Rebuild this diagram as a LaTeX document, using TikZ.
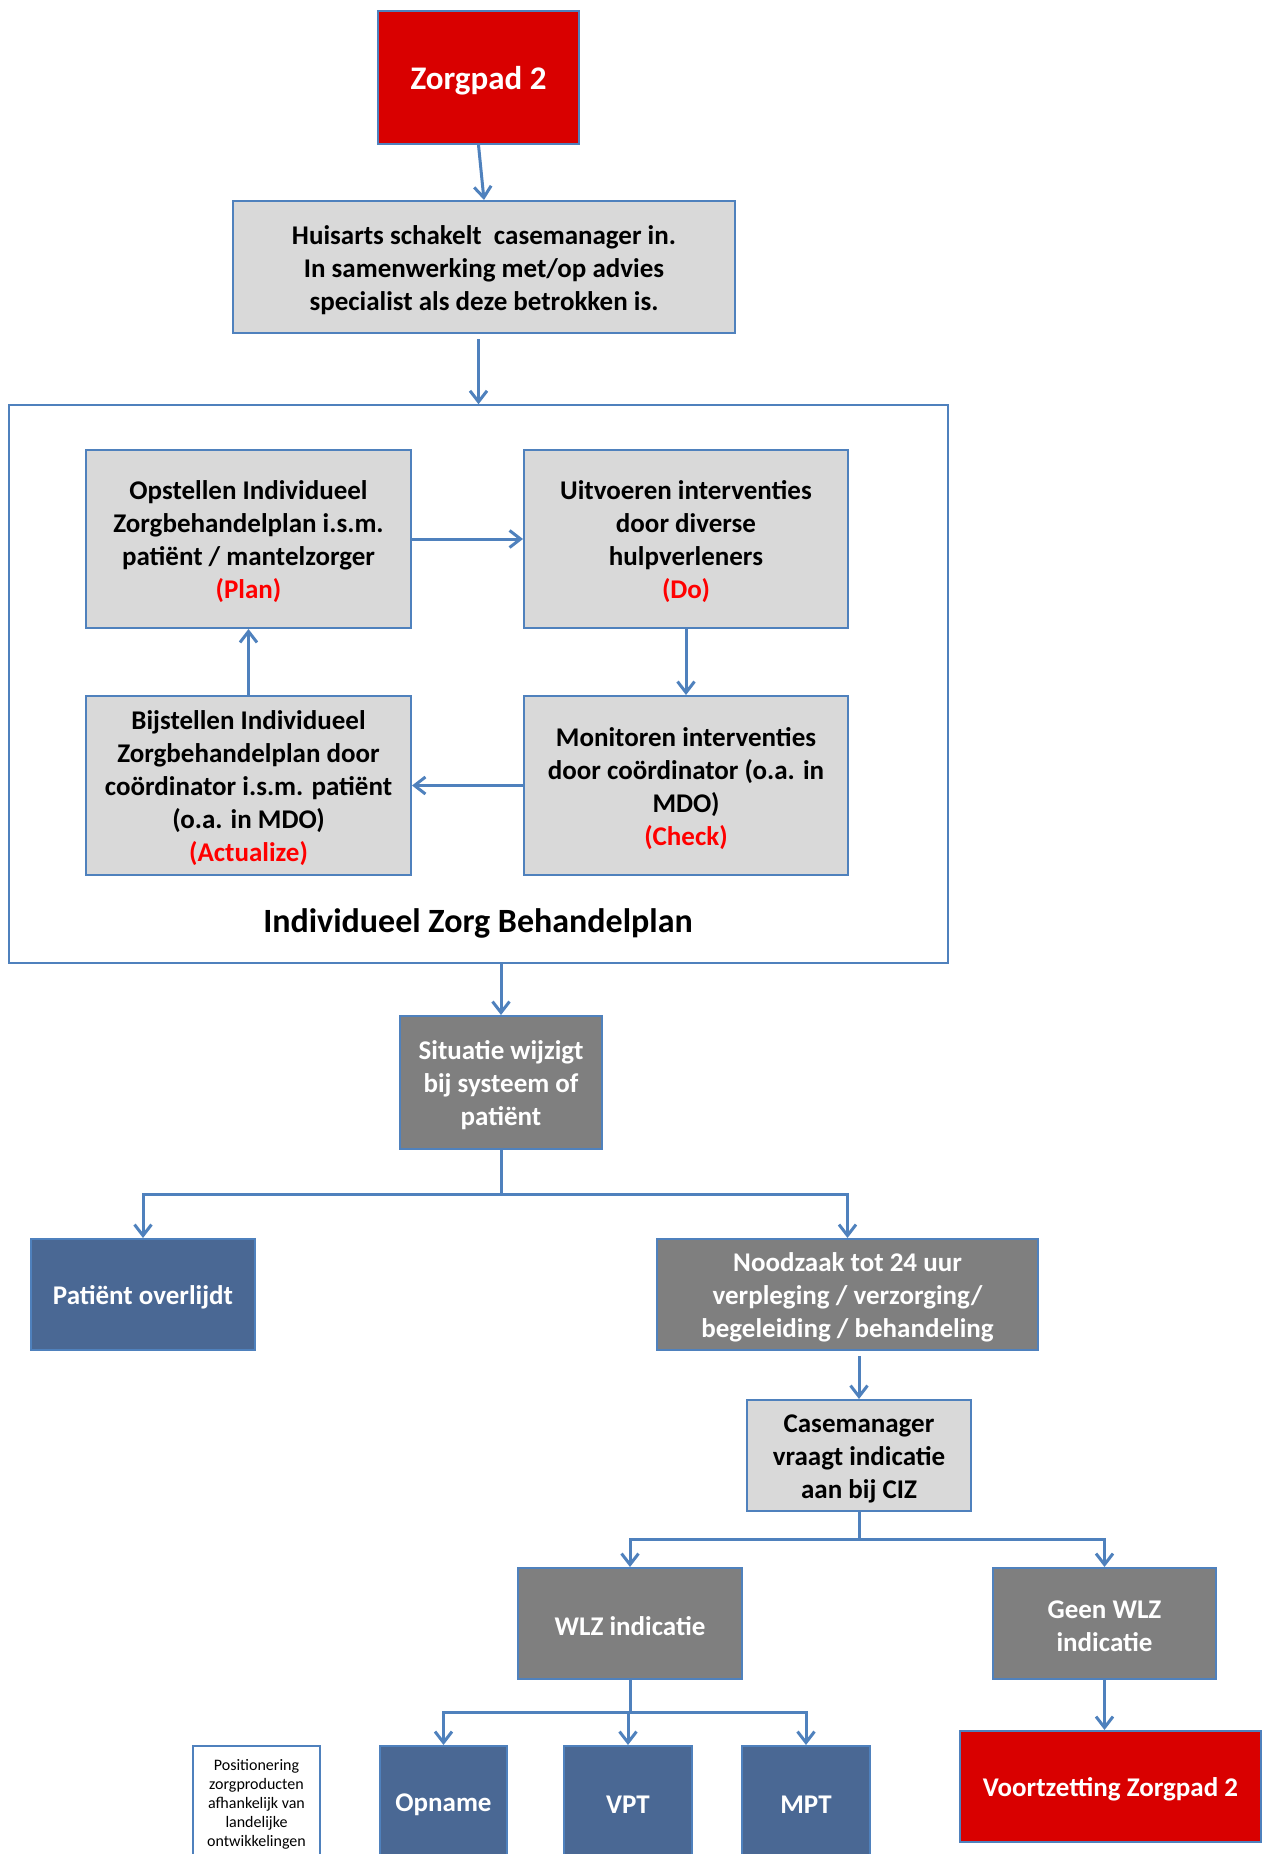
\documentclass[tikz,border=0pt]{standalone}
\usepackage{fontspec}
\setmainfont{Carlito}
\usetikzlibrary{arrows.meta,positioning}
\definecolor{pathred}{RGB}{217,0,0}
\definecolor{linkblue}{RGB}{79,129,189}
\definecolor{lightgrey}{RGB}{217,217,217}
\definecolor{darkgrey}{RGB}{127,127,127}
\definecolor{slateblue}{RGB}{74,104,148}
\definecolor{steptext}{RGB}{255,0,0}

\begin{document}
\begin{tikzpicture}
	[x=1pt,y=-1pt,
	>={Straight Barb[length=11pt,width=17pt]},
	lowtext/.style={execute at begin node={\vbox\bgroup\kern6pt\hbox\bgroup},execute at end node={\egroup\egroup}},
	zbox/.style={rectangle,draw=linkblue,line width=2pt,inner sep=0pt,align=center,font=\fontsize{27}{33}\selectfont\bfseries,lowtext},
	redzbox/.style={zbox,fill=pathred,text=white},
	lightzbox/.style={zbox,fill=lightgrey,text=black},
	darkzbox/.style={zbox,fill=darkgrey,text=white},
	bluezbox/.style={zbox,fill=slateblue,text=white},
	notezbox/.style={zbox,fill=white,line width=1.5pt,font=\fontsize{16}{19}\selectfont},
	planframe/.style={rectangle,draw=linkblue,line width=1.5pt,inner sep=0pt},
	flow/.style={->,draw=linkblue,line width=3pt}]
	\useasboundingbox (0,0) rectangle (1265,1854);
	\clip (0,0) rectangle (1265,1854);
	% top
	\node (zorgpad) at (478.5,77.5) [redzbox,minimum width=201pt,minimum height=133pt,font=\fontsize{33}{40}\selectfont\bfseries] {Zorgpad 2};
	\node (huisarts) at (484,267) [lightzbox,minimum width=502pt,minimum height=132pt] {Huisarts schakelt\ \ casemanager in.\\In samenwerking met/op advies\\specialist als deze betrokken is.};
	% plan-do-check-act
	\node (izb) at (478.5,684) [planframe,minimum width=939pt,minimum height=558pt] {};
	\node (plan) at (248.5,539) [lightzbox,minimum width=325pt,minimum height=178pt] {Opstellen Individueel\\Zorgbehandelplan i.s.m.\\patiënt / mantelzorger\\\textcolor{steptext}{(Plan)}};
	\node (do) at (686,539) [lightzbox,minimum width=324pt,minimum height=178pt] {Uitvoeren interventies\\door diverse\\hulpverleners\\\textcolor{steptext}{(Do)}};
	\node (actualize) at (248.5,785.5) [lightzbox,minimum width=325pt,minimum height=179pt] {Bijstellen Individueel\\Zorgbehandelplan door\\coördinator i.s.m. patiënt\\(o.a. in MDO)\\\textcolor{steptext}{(Actualize)}};
	\node (check) at (686,785.5) [lightzbox,minimum width=324pt,minimum height=179pt] {Monitoren interventies\\door coördinator (o.a. in\\MDO)\\\textcolor{steptext}{(Check)}};
	\node (title) at (478,920) [font=\fontsize{34}{40}\selectfont\bfseries,lowtext] {Individueel Zorg Behandelplan};
	% below
	\node (situatie) at (501,1082.5) [darkzbox,minimum width=202pt,minimum height=133pt] {Situatie wijzigt\\bij systeem of\\patiënt};
	\node (patient) at (143,1294.5) [bluezbox,minimum width=224pt,minimum height=111pt] {Patiënt overlijdt};
	\node (noodzaak) at (847.5,1294.5) [darkzbox,minimum width=381pt,minimum height=111pt] {Noodzaak tot 24 uur\\verpleging / verzorging/\\begeleiding / behandeling};
	\node (casemanager) at (859,1455.5) [lightzbox,minimum width=224pt,minimum height=111pt] {Casemanager\\vraagt indicatie\\aan bij CIZ};
	\node (wlz) at (630,1623.5) [darkzbox,minimum width=224pt,minimum height=111pt] {WLZ indicatie};
	\node (geen) at (1104.5,1623.5) [darkzbox,minimum width=223pt,minimum height=111pt] {Geen WLZ\\indicatie};
	\node (voortzetting) at (1110.5,1786.5) [redzbox,minimum width=301pt,minimum height=111pt] {Voortzetting Zorgpad 2};
	\node (note) at (256.5,1801.5) [notezbox,minimum width=127pt,minimum height=111pt] {Positionering\\zorgproducten\\afhankelijk van\\landelijke\\ontwikkelingen};
	\node (opname) at (443.5,1801.5) [bluezbox,minimum width=127pt,minimum height=111pt] {Opname};
	\node (vpt) at (628,1801.5) [bluezbox,minimum width=128pt,minimum height=111pt] {VPT};
	\node (mpt) at (806,1801.5) [bluezbox,minimum width=128pt,minimum height=111pt] {MPT};
	\coordinate (split1) at (501,1194);
	\coordinate (split2) at (859,1539);
	\coordinate (split3) at (630,1712);
	% connectors
	\draw [flow] (zorgpad.south) -- (huisarts.north);
	\draw [flow] ([yshift=-5pt]huisarts.south -| izb.north) -- (izb.north);
	\draw [flow] (plan) -- (do);
	\draw [flow] (do) -- (check);
	\draw [flow] (check) -- (actualize);
	\draw [flow] (actualize) -- (plan);
	\draw [flow] (situatie.north |- izb.south) -- (situatie.north);
	\draw [flow] (situatie.south) -- (split1) -| (patient.north);
	\draw [flow] (split1) -| (noodzaak.north);
	\draw [flow] ([yshift=-5pt]noodzaak.south -| casemanager.north) -- (casemanager.north);
	\draw [flow] (casemanager.south) -- (split2) -| (wlz.north);
	\draw [flow] (split2) -| (geen.north);
	\draw [flow] (geen.south) -- (geen.south |- voortzetting.north);
	\draw [flow] (wlz.south) -- (split3) -| (opname.north);
	\draw [flow] (split3) -| (vpt.north);
	\draw [flow] (split3) -| (mpt.north);
\end{tikzpicture}
\end{document}
